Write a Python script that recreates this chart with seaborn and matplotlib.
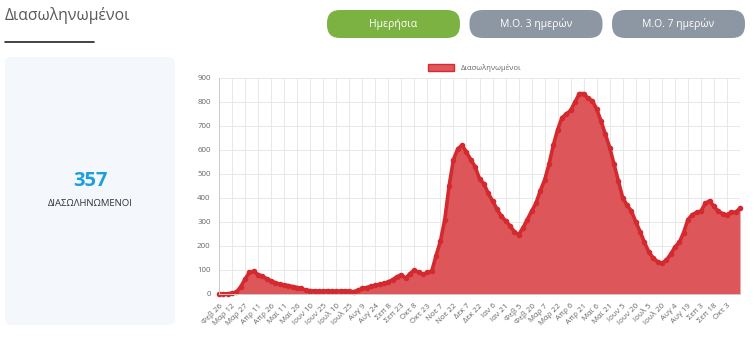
import pandas as pd
import seaborn as sns
import matplotlib.pyplot as plt
from matplotlib.patches import FancyBboxPatch, Patch

# Δεδομένα: διασωληνωμένοι ανά 5 ημέρες από 26 Φεβ 2020
start_date = '2020-02-26'
intubated = [
    0, 0, 1, 3, 8, 30, 62, 90, 95, 80,
    75, 63, 55, 47, 41, 38, 35, 31, 27, 23,
    16, 14, 13, 12, 12, 14, 12, 11, 13, 13,
    11, 10, 15, 24, 27, 32, 36, 40, 44, 50,
    60, 72, 80, 66, 85, 100, 90, 82, 90, 95,
    160, 220, 310, 450, 560, 605, 620, 590, 560, 530,
    480, 460, 420, 388, 355, 325, 305, 285, 260, 247,
    275, 310, 345, 378, 430, 475, 540, 620, 685, 735,
    750, 765, 800, 835, 835, 815, 805, 770, 720, 665,
    610, 540, 470, 400, 370, 345, 300, 260, 215, 175,
    150, 135, 128, 140, 165, 195, 215, 255, 310, 330,
    340, 345, 378, 388, 365, 345, 335, 330, 342, 340,
    357,
]
tick_labels = [
    'Φεβ 26', 'Μαρ 12', 'Μαρ 27', 'Απρ 11', 'Απρ 26', 'Μαϊ 11', 'Μαϊ 26',
    'Ιουν 10', 'Ιουν 25', 'Ιουλ 10', 'Ιουλ 25', 'Αυγ 9', 'Αυγ 24', 'Σεπ 8',
    'Σεπ 23', 'Οκτ 8', 'Οκτ 23', 'Νοε 7', 'Νοε 22', 'Δεκ 7', 'Δεκ 22',
    'Ιαν 6', 'Ιαν 21', 'Φεβ 5', 'Φεβ 20', 'Μαρ 7', 'Μαρ 22', 'Απρ 6',
    'Απρ 21', 'Μαϊ 6', 'Μαϊ 21', 'Ιουν 5', 'Ιουν 20', 'Ιουλ 5', 'Ιουλ 20',
    'Αυγ 4', 'Αυγ 19', 'Σεπ 3', 'Σεπ 18', 'Οκτ 3',
]
buttons = ['Ημερήσια', 'Μ.Ο. 3 ημερών', 'Μ.Ο. 7 ημερών']
current_value = intubated[-1]

dates = pd.date_range(start_date, periods=len(intubated), freq='5D')
tick_dates = pd.date_range(start_date, periods=len(tick_labels), freq='15D')
df = pd.DataFrame({'Ημερομηνία': dates, 'Διασωληνωμένοι': intubated})

sns.set_theme(style='white')
plt.rcParams['font.family'] = ['Open Sans', 'DejaVu Sans']

fig = plt.figure(figsize=(7.56, 3.52), dpi=100)

# Υπόβαθρο σε μονάδες pixel
bg = fig.add_axes([0, 0, 1, 1], zorder=0)
bg.set_xlim(0, 756)
bg.set_ylim(352, 0)
bg.axis('off')

bg.text(5, 16, 'Διασωληνωμένοι', fontsize=11.3, color='#5a5a5a', va='center', ha='left')
bg.plot([5, 94], [42, 42], color='#222222', lw=1.2)

btn_colors = ['#7bb241', '#8d97a3', '#8d97a3']
for i, (name, col) in enumerate(zip(buttons, btn_colors)):
    x0 = 327 + i * 142.5
    bg.add_patch(FancyBboxPatch((x0, 10), 133, 28, boxstyle='round,pad=0,rounding_size=13',
                                facecolor=col, edgecolor='none'))
    bg.text(x0 + 66.5, 24, name, fontsize=7.5, color='white', ha='center', va='center')

bg.add_patch(FancyBboxPatch((5, 57), 170, 268, boxstyle='round,pad=0,rounding_size=6',
                            facecolor='#f4f7fc', edgecolor='none'))
bg.text(90, 181, str(current_value), fontsize=14.5, fontweight='bold', color='#1a9fdc',
        ha='center', va='center')
bg.text(90, 203, 'ΔΙΑΣΩΛΗΝΩΜΕΝΟΙ', fontsize=6.8, color='#333333', ha='center', va='center')

# Γράφημα
ax = fig.add_axes([219 / 756, 1 - 294 / 352, 521 / 756, 216 / 352], zorder=1)
ax.fill_between(df['Ημερομηνία'], df['Διασωληνωμένοι'], color='#dc4d51', alpha=0.95, lw=0)
sns.lineplot(data=df, x='Ημερομηνία', y='Διασωληνωμένοι', ax=ax, color='#d42a2f', lw=2.6,
             marker='o', markersize=4, markeredgewidth=0, clip_on=False)

ax.set_xlim(dates[0], dates[-1])
ax.set_ylim(0, 900)
ax.set_yticks(range(0, 901, 100))
ax.set_xticks(tick_dates)
ax.set_xticklabels(tick_labels, rotation=45, ha='right', rotation_mode='anchor')
ax.tick_params(axis='both', labelsize=5.7, labelcolor='#666666', length=4, width=0.6,
               color='#e2e2e2', pad=2)
ax.grid(True, color='#e8e8e8', lw=0.7)
ax.set_axisbelow(True)
ax.set_xlabel('')
ax.set_ylabel('')
for side in ['top', 'right']:
    ax.spines[side].set_visible(False)
for side in ['left', 'bottom']:
    ax.spines[side].set_color('#cccccc')
    ax.spines[side].set_linewidth(0.7)

handles = [Patch(facecolor='#e0575b', edgecolor='#d42c31', lw=1)]
ax.legend(handles, ['Διασωληνωμένοι'], loc='lower center', bbox_to_anchor=(0.49, 1.0),
          frameon=False, fontsize=5.5, labelcolor='#666666', handlelength=3.5,
          handleheight=1.1, borderaxespad=0.4)

plt.savefig('out.png', dpi=100)
